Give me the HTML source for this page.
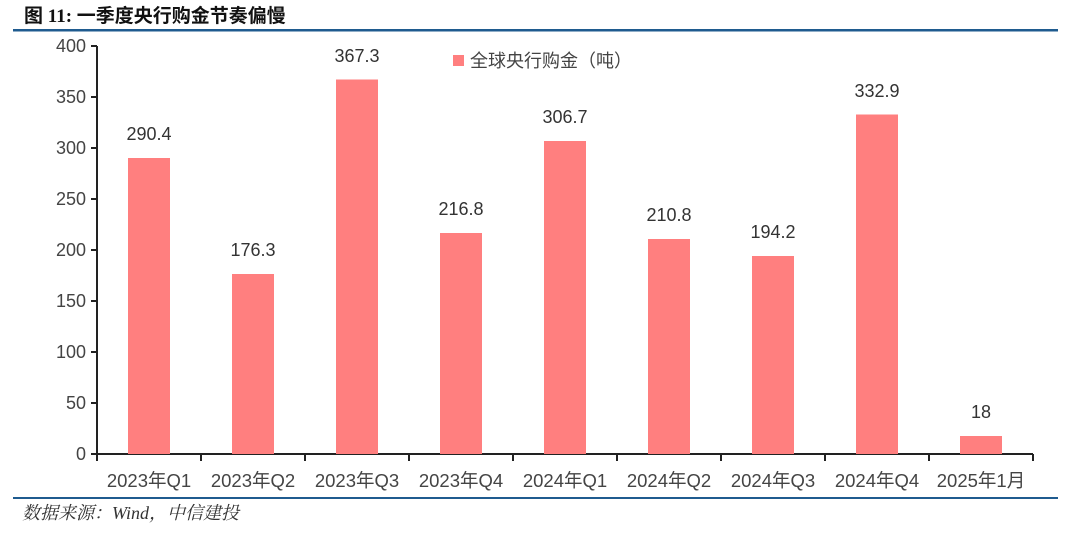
<!DOCTYPE html>
<html><head><meta charset="utf-8"><style>
body{margin:0;background:#fff;width:1080px;height:529px;overflow:hidden}
text{font-family:"Liberation Sans","Noto Sans CJK SC",sans-serif}
</style></head><body>
<svg width="1080" height="529" xmlns="http://www.w3.org/2000/svg">
<text x="24" y="22" font-size="19" font-weight="bold" fill="#111" style="font-family:'Liberation Serif','Noto Sans CJK SC',sans-serif">图 11:  一季度央行购金节奏偏慢</text>
<rect x="13" y="29" width="1045" height="2.5" fill="#1f5b8f"/>
<rect x="13" y="497" width="1045" height="2" fill="#1f5b8f"/>
<text x="22" y="519" font-size="18" font-style="italic" fill="#333" style="font-family:'Liberation Serif','Noto Serif CJK SC',serif">数据来源：Wind，中信建投</text>
<g stroke="#222" stroke-width="2" fill="none">
<line x1="97" y1="46" x2="97" y2="455"/>
<line x1="96" y1="454" x2="1033" y2="454"/>
<line x1="91" y1="46" x2="97" y2="46"/><line x1="91" y1="97" x2="97" y2="97"/><line x1="91" y1="148" x2="97" y2="148"/><line x1="91" y1="199" x2="97" y2="199"/><line x1="91" y1="250" x2="97" y2="250"/><line x1="91" y1="301" x2="97" y2="301"/><line x1="91" y1="352" x2="97" y2="352"/><line x1="91" y1="403" x2="97" y2="403"/><line x1="91" y1="454" x2="97" y2="454"/>
<line x1="201" y1="454" x2="201" y2="461"/><line x1="305" y1="454" x2="305" y2="461"/><line x1="409" y1="454" x2="409" y2="461"/><line x1="513" y1="454" x2="513" y2="461"/><line x1="617" y1="454" x2="617" y2="461"/><line x1="721" y1="454" x2="721" y2="461"/><line x1="825" y1="454" x2="825" y2="461"/><line x1="929" y1="454" x2="929" y2="461"/><line x1="1033" y1="454" x2="1033" y2="461"/><line x1="97" y1="454" x2="97" y2="461"/>
</g>
<g font-size="18" fill="#444" text-anchor="end">
<text x="86" y="52">400</text><text x="86" y="103">350</text><text x="86" y="154">300</text><text x="86" y="205">250</text><text x="86" y="256">200</text><text x="86" y="307">150</text><text x="86" y="358">100</text><text x="86" y="409">50</text><text x="86" y="460">0</text>
</g>
<g fill="#ff7f7f">
<rect x="128" y="158" width="42" height="296"/>
<rect x="232" y="274" width="42" height="180"/>
<rect x="336" y="79.5" width="42" height="374.5"/>
<rect x="440" y="233" width="42" height="221"/>
<rect x="544" y="141" width="42" height="313"/>
<rect x="648" y="239" width="42" height="215"/>
<rect x="752" y="256" width="42" height="198"/>
<rect x="856" y="114.5" width="42" height="339.5"/>
<rect x="960" y="436" width="42" height="18"/>
<rect x="453" y="55" width="11" height="11"/>
</g>
<text x="470" y="67" font-size="18" fill="#444">全球央行购金（吨）</text>
<g font-size="18" fill="#333" text-anchor="middle">
<text x="149" y="140">290.4</text><text x="253" y="256">176.3</text><text x="357" y="62">367.3</text><text x="461" y="215">216.8</text><text x="565" y="123">306.7</text><text x="669" y="221">210.8</text><text x="773" y="238">194.2</text><text x="877" y="97">332.9</text><text x="981" y="418">18</text>
</g>
<g font-size="18.5" fill="#444" text-anchor="middle">
<text x="149" y="487">2023年Q1</text><text x="253" y="487">2023年Q2</text><text x="357" y="487">2023年Q3</text><text x="461" y="487">2023年Q4</text><text x="565" y="487">2024年Q1</text><text x="669" y="487">2024年Q2</text><text x="773" y="487">2024年Q3</text><text x="877" y="487">2024年Q4</text><text x="981" y="487">2025年1月</text>
</g>
</svg>
</body></html>
